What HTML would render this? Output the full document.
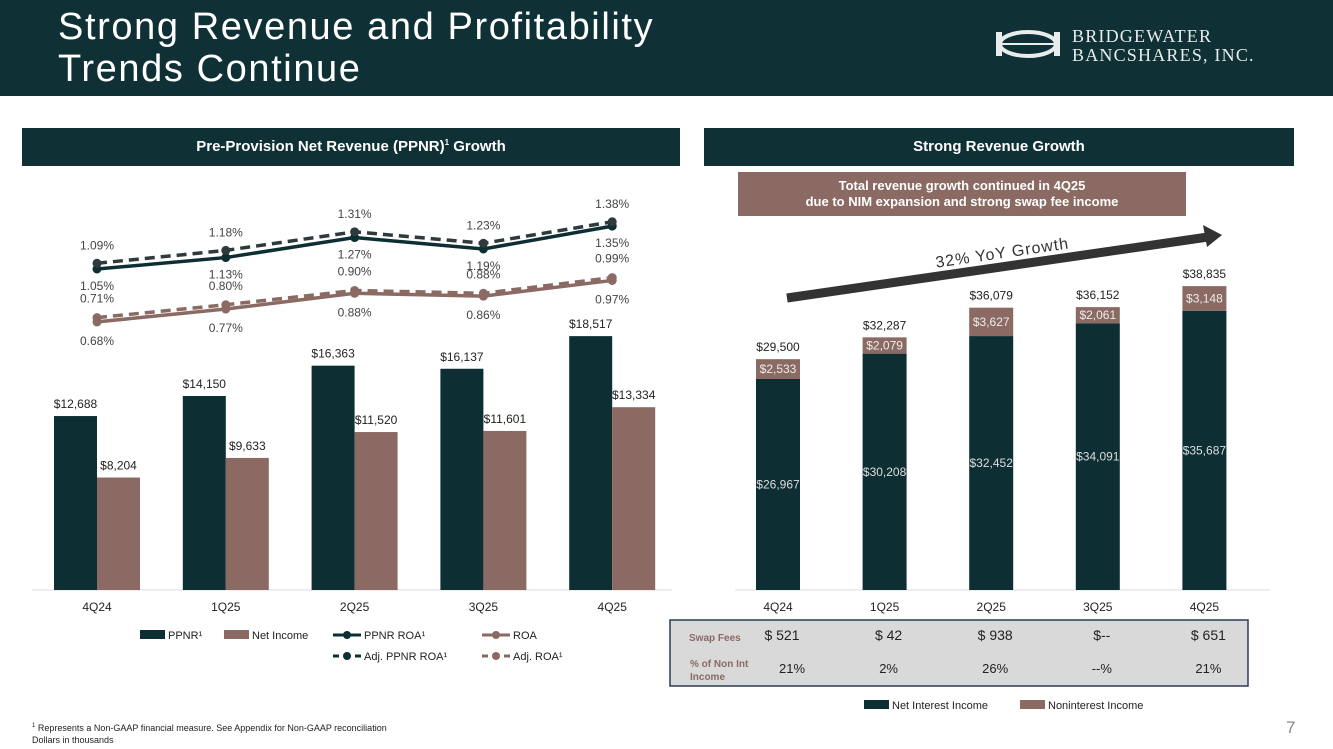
<!DOCTYPE html>
<html><head><meta charset="utf-8">
<style>
body{margin:0;width:1333px;height:749px;overflow:hidden;background:#fff;font-family:"Liberation Sans",sans-serif;position:relative}
.hdr{position:absolute;left:0;top:0;width:1333px;height:96px;background:#0f3136}
.title{position:absolute;left:58px;top:6px;color:#fff;font-size:38px;line-height:42px;letter-spacing:1.6px}
.logo{position:absolute;left:1072px;top:27px;color:#e8ecea;font-family:"Liberation Serif",serif;font-size:18px;line-height:19px;letter-spacing:1.2px}
.sec{position:absolute;top:128px;height:38px;background:#0f3136;color:#fff;font-weight:bold;font-size:15px;line-height:38px;text-align:center}
.sec sup{font-size:8px;line-height:0;vertical-align:6px}
.sub{position:absolute;left:738px;top:172px;width:448px;height:44px;background:#8a6a62;color:#fff;font-weight:bold;font-size:13px;line-height:16px;text-align:center;padding-top:6px;box-sizing:border-box}
.foot{position:absolute;left:32px;top:720px;font-size:9px;line-height:12px;color:#222}
.pg{position:absolute;left:1286px;top:718px;font-size:17px;color:#888}
svg{position:absolute;left:0;top:0}
</style></head><body>
<div class="hdr"></div>
<div class="title">Strong Revenue and Profitability<br>Trends Continue</div>
<svg width="1333" height="749" style="pointer-events:none">
<ellipse cx="1028" cy="44" rx="28" ry="12" fill="none" stroke="#e8ecea" stroke-width="4"/>
<line x1="1000" y1="44" x2="1056" y2="44" stroke="#e8ecea" stroke-width="2"/>
<rect x="996" y="32" width="6" height="24" fill="#e8ecea"/><rect x="1054" y="32" width="6" height="24" fill="#e8ecea"/>
</svg>
<div class="logo">BRIDGEWATER<br>BANCSHARES, INC.</div>
<div class="sec" style="left:22px;width:658px">Pre-Provision Net Revenue (PPNR)<sup>1</sup> Growth</div>
<div class="sec" style="left:704px;width:590px">Strong Revenue Growth</div>
<div class="sub">Total revenue growth continued in 4Q25<br>due to NIM expansion and strong swap fee income</div>
<svg id="c" width="1333" height="749"></svg>
<div class="foot"><sup style="font-size:6px">1</sup> Represents a Non-GAAP financial measure. See Appendix for Non-GAAP reconciliation<br>Dollars in thousands</div>
<div class="pg">7</div>
<script>
const categories=["4Q24","1Q25","2Q25","3Q25","4Q25"];
const ppnr=[12688,14150,16363,16137,18517];
const netIncome=[8204,9633,11520,11601,13334];
const ppnrRoa=[1.05,1.13,1.27,1.19,1.35];
const adjPpnrRoa=[1.09,1.18,1.31,1.23,1.38];
const roa=[0.68,0.77,0.88,0.86,0.97];
const adjRoa=[0.71,0.80,0.90,0.88,0.99];
const nii=[26967,30208,32452,34091,35687];
const nonInt=[2533,2079,3627,2061,3148];
const swapFees=["$ 521","$ 42","$ 938","$--","$ 651"];
const pctNonInt=["21%","2%","26%","--%","21%"];
const DARK="#0d2f34",MAU="#8a6a62";
const s=document.getElementById('c');const NS="http://www.w3.org/2000/svg";
function el(t,a,txt){const e=document.createElementNS(NS,t);for(const k in a)e.setAttribute(k,a[k]);if(txt!=null)e.textContent=txt;s.appendChild(e);return e;}
function fmt(v){return "$"+v.toLocaleString("en-US");}
const base=590;
const lx=i=>97+i*128.8, ly=v=>v*0.01371;
const ry=v=>269-(v-1.05)*143;
el('line',{x1:32,y1:base,x2:672,y2:base,stroke:"#ddd"});
categories.forEach((c,i)=>{
 const x=lx(i);
 let b=el('rect',{x:x-43,y:base-ly(ppnr[i]),width:43,height:ly(ppnr[i]),fill:DARK});
 
 let n=el('rect',{x:x,y:base-ly(netIncome[i]),width:43,height:ly(netIncome[i]),fill:MAU});
 
 el('text',{x:x-21.5,y:base-ly(ppnr[i])-8,"text-anchor":"middle","font-size":12,fill:"#222"},fmt(ppnr[i]));
 el('text',{x:x+21.5,y:base-ly(netIncome[i])-8,"text-anchor":"middle","font-size":12,fill:"#222"},fmt(netIncome[i]));
 el('text',{x:x,y:611,"text-anchor":"middle","font-size":12,fill:"#222"},c);
});
function line(arr,col,dash,name,lblOff){
 const pts=arr.map((v,i)=>lx(i)+","+ry(v)).join(" ");
 const p=el('polyline',{points:pts,fill:"none",stroke:col,"stroke-width":3.5});
 if(dash)p.setAttribute('stroke-dasharray',"10,6");
 
 arr.forEach((v,i)=>{el('circle',{cx:lx(i),cy:ry(v),r:4.5,fill:col});
  el('text',{x:lx(i),y:ry(v)+lblOff,"text-anchor":"middle","font-size":12,fill:"#444"},v.toFixed(2)+"%");});
}
line(ppnrRoa,DARK,false,'ppnr-roa-line',21);
line(adjPpnrRoa,"#2e3a3c",true,'adj-ppnr-roa-line',-14);
line(roa,MAU,false,'roa-line',23);
line(adjRoa,MAU,true,'adj-roa-line',-15);
function lg(x,y,type,col,label,dash){
 if(type=='box')el('rect',{x:x,y:y-5,width:25,height:9,fill:col});
 else{el('line',{x1:x,y1:y,x2:x+28,y2:y,stroke:col,"stroke-width":3,"stroke-dasharray":dash?"6,5":"none"});el('circle',{cx:x+14,cy:y,r:4,fill:col});}
 const t=el('text',{x:x+(type=='box'?28:31),y:y+4,"font-size":11,fill:"#222"},label);
 
}
lg(140,635,'box',DARK,"PPNR¹");lg(224,635,'box',MAU,"Net Income");
lg(333,635,'line',DARK,"PPNR ROA¹");lg(482,635,'line',MAU,"ROA");
lg(333,656,'line',DARK,"Adj. PPNR ROA¹",true);lg(482,656,'line',MAU,"Adj. ROA¹",true);
const rx=i=>778+i*106.6, rh=v=>v*0.007825;
el('line',{x1:735,y1:base,x2:1270,y2:base,stroke:"#ddd"});
const tb=el('rect',{x:670,y:620,width:578,height:66,fill:"#d9d9d9",stroke:"#2b3a55","stroke-width":1.5});

categories.forEach((c,i)=>{
 const x=rx(i),h1=rh(nii[i]),h2=rh(nonInt[i]);
 let a=el('rect',{x:x-22,y:base-h1,width:44,height:h1,fill:DARK});
 
 let b=el('rect',{x:x-22,y:base-h1-h2,width:44,height:h2,fill:MAU});
 
 el('text',{x:x,y:base-h1/2+4,"text-anchor":"middle","font-size":12,fill:"#ddd"},fmt(nii[i]));
 el('text',{x:x,y:base-h1-h2/2+4,"text-anchor":"middle","font-size":12,fill:"#eee"},fmt(nonInt[i]));
 el('text',{x:x,y:base-h1-h2-8,"text-anchor":"middle","font-size":12,fill:"#222"},fmt(nii[i]+nonInt[i]));
 el('text',{x:x,y:611,"text-anchor":"middle","font-size":12,fill:"#222"},c);
 el('text',{x:x+4,y:640,"text-anchor":"middle","font-size":14,fill:"#222"},swapFees[i]);
 el('text',{x:x+(i==0?14:4),y:673,"text-anchor":"middle","font-size":13,fill:"#222"},pctNonInt[i]);
});
el('text',{x:689,y:641,"font-size":10,"font-weight":"bold",fill:"#8a6a62"},"Swap Fees");
el('text',{x:690,y:667,"font-size":10,"font-weight":"bold",fill:"#8a6a62"},"% of Non Int");
el('text',{x:690,y:680,"font-size":10,"font-weight":"bold",fill:"#8a6a62"},"Income");
lg(864,705,'box',DARK,"Net Interest Income");lg(1020,705,'box',MAU,"Noninterest Income");
const ar=el('line',{x1:787,y1:298,x2:1208,y2:237,stroke:"#333","stroke-width":9});

el('polygon',{points:"1222,235 1203,225 1207,247",fill:"#333"});
el('text',{x:1003,y:258,"text-anchor":"middle","font-size":16,fill:"#333",transform:"rotate(-8.3 1003 258)","letter-spacing":"1"},"32% YoY Growth");
</script>
</body></html>
